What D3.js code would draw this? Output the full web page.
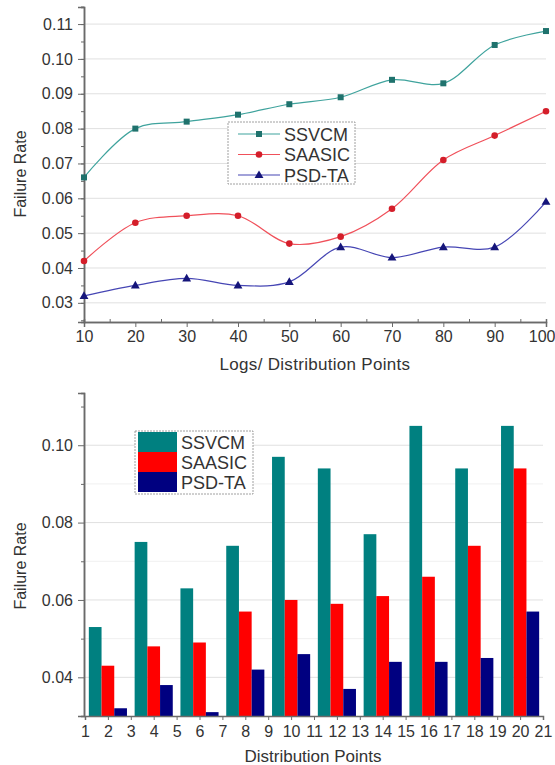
<!DOCTYPE html>
<html><head><meta charset="utf-8">
<script src="https://cdn.jsdelivr.net/npm/d3@7/dist/d3.min.js"></script>
<style>body{margin:0;background:#fff}svg{display:block;font-family:"Liberation Sans",Arial,sans-serif}</style>
</head><body><svg id="c" width="555" height="765"></svg>
<script>
// ---- data: top line chart ----
const seriesNames = ["SSVCM", "SAASIC", "PSD-TA"];
const logPoints = [10, 20, 30, 40, 50, 60, 70, 80, 90, 100];
const ssvcmLine = [0.066, 0.080, 0.082, 0.084, 0.087, 0.089, 0.094, 0.093, 0.104, 0.108];
const saasicLine = [0.042, 0.053, 0.055, 0.055, 0.047, 0.049, 0.057, 0.071, 0.078, 0.085];
const psdtaLine = [0.032, 0.035, 0.037, 0.035, 0.036, 0.046, 0.043, 0.046, 0.046, 0.059];
const topYTicks = [0.03, 0.04, 0.05, 0.06, 0.07, 0.08, 0.09, 0.10, 0.11];
const topXTicks = [10, 20, 30, 40, 50, 60, 70, 80, 90, 100];
// ---- data: bottom bar chart ----
const distPoints = [2, 4, 6, 8, 10, 12, 14, 16, 18, 20];
const ssvcmBar = [0.053, 0.075, 0.063, 0.074, 0.097, 0.094, 0.077, 0.105, 0.094, 0.105];
const saasicBar = [0.043, 0.048, 0.049, 0.057, 0.060, 0.059, 0.061, 0.066, 0.074, 0.094];
const psdtaBar = [0.032, 0.038, 0.031, 0.042, 0.046, 0.037, 0.044, 0.044, 0.045, 0.057];
const botYTicks = [0.04, 0.06, 0.08, 0.10];
const botXTicks = d3.range(1, 22);

const svg = d3.select("#c");
const axisCol = "#6a6a6a", txtCol = "#333", gridCol = "#e0e0e0";

// ================= TOP CHART =================
const tx = d3.scaleLinear().domain([10, 100]).range([84, 546]);
const ty = d3.scaleLinear().domain([0.0245, 0.1149]).range([322, 7]);
const topG = svg.append("g");
topG.selectAll(".g").data(topYTicks).join("line")
  .attr("x1", tx(10)).attr("x2", tx(100)).attr("y1", d => ty(d)).attr("y2", d => ty(d))
  .attr("stroke", gridCol).attr("stroke-width", 1);
const tyAxis = d3.axisLeft(ty).tickValues(topYTicks).tickFormat(d3.format(".2f")).tickSize(6).tickPadding(5);
const tyMinor = d3.axisLeft(ty).tickValues(d3.range(0.025, 0.1151, 0.005)).tickFormat("").tickSize(3);
const txAxis = d3.axisBottom(tx).tickValues(topXTicks).tickFormat(d3.format("d")).tickSize(5).tickPadding(4);
const txMinor = d3.axisTop(tx).tickValues(d3.range(15, 100, 10)).tickFormat("").tickSize(3);
function styleAxis(g, fs){
  g.select(".domain").attr("stroke", axisCol).attr("stroke-width", 1.5);
  g.selectAll(".tick line").attr("stroke", axisCol);
  g.selectAll(".tick text").attr("fill", txtCol).style("font-size", (fs || 16) + "px");
}
topG.append("g").attr("transform", "translate(84,0)").call(tyMinor).call(styleAxis);
topG.append("g").attr("transform", "translate(84,0)").call(tyAxis).call(styleAxis);
topG.append("g").attr("transform", "translate(0,322)").call(txMinor).call(styleAxis);
const txg = topG.append("g").attr("transform", "translate(0,322)").call(txAxis).call(styleAxis);
txg.selectAll(".tick text").filter(d => d === 100).attr("text-anchor", "end").attr("x", 9);
topG.append("text").attr("transform", "translate(26,174) rotate(-90)").attr("text-anchor", "middle")
  .attr("fill", txtCol).style("font-size", "16px").text("Failure Rate");
topG.append("text").attr("x", 315).attr("y", 370).attr("text-anchor", "middle")
  .attr("fill", txtCol).style("font-size", "17px").style("letter-spacing", "0.3px").text("Logs/ Distribution Points");

const lineCols = ["#3fa39d", "#f0505a", "#4646b4"];
const markCols = ["#1f726d", "#d41e2a", "#15157a"];
const lineData = [ssvcmLine, saasicLine, psdtaLine];
const lineGen = d3.line().x(d => tx(d[0])).y(d => ty(d[1])).curve(d3.curveCatmullRom.alpha(0.5));
function marker(g, i, x, y){
  if (i === 0) g.append("rect").attr("x", x - 3).attr("y", y - 3).attr("width", 6).attr("height", 6).attr("fill", markCols[0]);
  else if (i === 1) g.append("circle").attr("cx", x).attr("cy", y).attr("r", 3.3).attr("fill", markCols[1]);
  else g.append("path").attr("d", d3.symbol(d3.symbolTriangle, 34)()).attr("transform", `translate(${x},${y + 0.5})`).attr("fill", markCols[2]);
}
lineData.forEach((vals, i) => {
  const pts = logPoints.map((x, j) => [x, vals[j]]);
  topG.append("path").attr("d", lineGen(pts)).attr("fill", "none").attr("stroke", lineCols[i]).attr("stroke-width", 1.2);
  pts.forEach(p => marker(topG, i, tx(p[0]), ty(p[1])));
});
const tl = topG.append("g");
tl.append("rect").attr("x", 228).attr("y", 122).attr("width", 127).attr("height", 62)
  .attr("fill", "#fff").attr("stroke", "#888").attr("stroke-width", 0.8).attr("stroke-dasharray", "2,1");
seriesNames.forEach((n, i) => {
  const y = 134 + i * 20.5;
  tl.append("line").attr("x1", 238).attr("x2", 280).attr("y1", y).attr("y2", y).attr("stroke", lineCols[i]).attr("stroke-width", 1.2);
  marker(tl, i, 259, y);
  tl.append("text").attr("x", 284).attr("y", y + 6.5).attr("fill", txtCol).style("font-size", "18px").text(n);
});

// ================= BOTTOM CHART =================
const bx = d3.scaleLinear().domain([1, 21]).range([85, 543]);
const by = d3.scaleLinear().domain([0.03, 0.1135]).range([716, 393]);
const bot = svg.append("g");
bot.selectAll(".gm").data([0.05, 0.07, 0.09]).join("line")
  .attr("x1", 84).attr("x2", bx(21)).attr("y1", d => by(d)).attr("y2", d => by(d))
  .attr("stroke", "#f0f0f0").attr("stroke-width", 1);
bot.selectAll(".g").data(botYTicks).join("line")
  .attr("x1", 84).attr("x2", bx(21)).attr("y1", d => by(d)).attr("y2", d => by(d))
  .attr("stroke", gridCol).attr("stroke-width", 1);
const barCols = ["#008080", "#ff0000", "#000080"];
const barData = [ssvcmBar, saasicBar, psdtaBar];
const unit = bx(2) - bx(1);
const bw = unit * 0.555;
barData.forEach((vals, i) => {
  bot.selectAll(".b" + i).data(distPoints.map((x, j) => [x, vals[j]])).join("rect")
    .attr("x", d => bx(d[0]) + (i - 1.5) * bw).attr("width", bw)
    .attr("y", d => by(d[1])).attr("height", d => by(0.03) - by(d[1]))
    .attr("fill", barCols[i]);
});
const byAxis = d3.axisLeft(by).tickValues(botYTicks).tickFormat(d3.format(".2f")).tickSize(6).tickPadding(5);
const byMinor = d3.axisLeft(by).tickValues([0.03, 0.05, 0.07, 0.09, 0.11]).tickFormat("").tickSize(3);
const bxAxis = d3.axisBottom(bx).tickValues(botXTicks).tickFormat(d3.format("d")).tickSize(4).tickPadding(6);
bot.append("g").attr("transform", "translate(84,0)").call(byMinor).call(styleAxis);
bot.append("g").attr("transform", "translate(84,0)").call(byAxis).call(styleAxis);
bot.append("g").attr("transform", "translate(0,716)").call(bxAxis).call(g => styleAxis(g, 16));
bot.append("text").attr("transform", "translate(26,566) rotate(-90)").attr("text-anchor", "middle")
  .attr("fill", txtCol).style("font-size", "16px").text("Failure Rate");
bot.append("text").attr("x", 313).attr("y", 762).attr("text-anchor", "middle")
  .attr("fill", txtCol).style("font-size", "17px").text("Distribution Points");
const bl = bot.append("g");
bl.append("rect").attr("x", 135).attr("y", 431).attr("width", 118).attr("height", 63)
  .attr("fill", "#fff").attr("stroke", "#888").attr("stroke-width", 0.8).attr("stroke-dasharray", "2,1");
seriesNames.forEach((n, i) => {
  const y = 432 + i * 20;
  bl.append("rect").attr("x", 138).attr("y", y).attr("width", 39).attr("height", 20).attr("fill", barCols[i]);
  bl.append("text").attr("x", 181).attr("y", y + 16.5).attr("fill", txtCol).style("font-size", "18px").text(n);
});
</script></body></html>
